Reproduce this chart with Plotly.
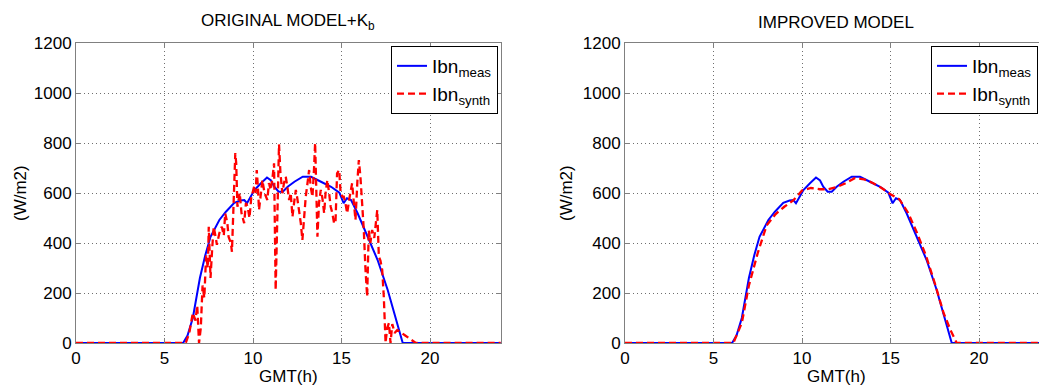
import plotly.graph_objects as go

# ---------------- data ----------------
hours_meas = [0, 6.05, 6.3, 6.6, 7.0, 7.3, 7.6, 8.1, 8.47, 8.94, 9.3, 9.51, 9.66, 10.08, 10.45,
              10.79, 11.02, 11.2, 11.45, 11.68, 11.96, 12.34, 12.81, 13.28, 13.84, 14.41, 14.88,
              15.12, 15.31, 15.54, 15.91, 16.48, 17.04, 17.61, 18.08, 18.46, 24]
ibn_meas = [0, 0, 30, 100, 260, 350, 425, 492, 525, 561, 570, 572, 559, 612, 639,
            662, 650, 625, 605, 605, 625, 645, 665, 665, 645, 625, 601,
            559, 579, 572, 519, 425, 332, 212, 92, 0, 0]

hours_synth_orig = [0, 6.2, 6.4, 6.6, 6.75, 6.85, 6.95, 7.05, 7.15, 7.25, 7.35, 7.45, 7.5, 7.6, 7.7,
                    7.78, 7.9, 7.96, 8.1, 8.24, 8.35, 8.43, 8.55, 8.62, 8.75, 8.81, 8.9, 9.0, 9.05,
                    9.12, 9.25, 9.35, 9.5, 9.6, 9.7, 9.8, 9.9, 10.06, 10.15, 10.21, 10.28, 10.34,
                    10.45, 10.53, 10.65, 10.81, 10.9, 11.0, 11.1, 11.19, 11.28, 11.38, 11.47, 11.55,
                    11.66, 11.75, 11.85, 11.95, 12.04, 12.13, 12.23, 12.32, 12.42, 12.5, 12.6, 12.7,
                    12.79, 12.88, 12.98, 13.08, 13.17, 13.27, 13.36, 13.45, 13.51, 13.58, 13.64,
                    13.73, 13.83, 13.92, 14.02, 14.1, 14.2, 14.3, 14.39, 14.48, 14.58, 14.66, 14.75,
                    14.87, 14.95, 15.06, 15.13, 15.22, 15.32, 15.45, 15.6, 15.7, 15.79, 15.9, 15.98,
                    16.07, 16.15, 16.26, 16.35, 16.45, 16.54, 16.63, 16.73, 16.85, 17.02, 17.11, 17.2,
                    17.3, 17.39, 17.49, 17.58, 17.68, 17.77, 17.87, 18.0, 18.15, 18.6, 19.2, 24]
ibn_synth_orig = [0, 0, 40, 120, 90, 150, 0, 60, 230, 180, 350, 300, 465, 260, 385,
                  465, 420, 393, 440, 465, 430, 519, 480, 425, 400, 365, 550, 760, 720,
                  545, 600, 520, 479, 560, 545, 500, 580, 625, 600, 692, 620, 532,
                  600, 652, 600, 572, 640, 612, 660, 719, 212, 600, 795, 680,
                  599, 640, 665, 620, 572, 600, 505, 560, 612, 580, 532, 480,
                  412, 500, 585, 640, 692, 620, 585, 700, 800, 600, 425,
                  560, 612, 580, 519, 600, 652, 600, 545, 520, 479, 479, 679,
                  692, 600, 585, 585, 560, 519, 580, 639, 560, 492, 650, 732,
                  665, 580, 452, 300, 185, 452, 400, 452, 420, 532, 345, 330,
                  292, 185, 0, 60, 80, 0, 76, 40, 52, 30, 0, 0]

hours_synth_impr = [0, 6.12, 6.6, 7.0, 7.5, 8.0, 8.5, 9.0, 9.5, 10.0, 10.5, 11.0, 11.5, 12.0, 12.5,
                    13.0, 13.5, 14.0, 14.5, 15.0, 15.5, 16.0, 16.5, 17.0, 17.5, 18.0, 18.4, 18.74, 24]
ibn_synth_impr = [0, 0, 80, 230, 360, 470, 515, 545, 570, 610, 620, 615, 615, 625, 640,
                  660, 655, 640, 620, 595, 575, 520, 440, 350, 240, 120, 50, 0, 0]

x_ticks = [0, 5, 10, 15, 20]
y_ticks = [0, 200, 400, 600, 800, 1000, 1200]

# ---------------- layout helpers ----------------
W, H = 1039, 389


def px(x):
    return x / W


def py(y):
    return 1 - y / H


FONT = "Liberation Sans, Arial, sans-serif"
RED = "#ff0000"
BLUE = "#0000ff"

fig = go.Figure()

fig.add_trace(go.Scatter(x=hours_meas, y=ibn_meas, mode="lines", name="Ibn<sub>meas</sub>",
                         line=dict(color=BLUE, width=2), xaxis="x", yaxis="y", legend="legend"))
fig.add_trace(go.Scatter(x=hours_synth_orig, y=ibn_synth_orig, mode="lines", name="Ibn<sub>synth</sub>",
                         line=dict(color=RED, width=2.3, dash="7px,4px"), xaxis="x", yaxis="y",
                         legend="legend"))
fig.add_trace(go.Scatter(x=hours_meas, y=ibn_meas, mode="lines", name="Ibn<sub>meas</sub>",
                         line=dict(color=BLUE, width=2), xaxis="x2", yaxis="y2", legend="legend2"))
fig.add_trace(go.Scatter(x=hours_synth_impr, y=ibn_synth_impr, mode="lines", name="Ibn<sub>synth</sub>",
                         line=dict(color=RED, width=2.3, dash="7px,4px"), xaxis="x2", yaxis="y2",
                         legend="legend2"))

axis_common = dict(showline=True, linecolor="#808080", linewidth=1, ticks="inside", ticklen=5,
                   tickcolor="#808080", showgrid=True, gridcolor="#6f6f6f", griddash="1px,3px",
                   gridwidth=1, zeroline=False, automargin=False,
                   tickfont=dict(family=FONT, size=17, color="black"))

ydom = [py(343), py(43)]

legend_common = dict(xanchor="right", y=py(46), yanchor="top", bgcolor="white",
                     bordercolor="black", borderwidth=1,
                     font=dict(family=FONT, size=19, color="black"), itemwidth=30)

fig.update_layout(
    width=W, height=H,
    margin=dict(l=0, r=0, t=0, b=0, pad=0),
    paper_bgcolor="white", plot_bgcolor="white",
    xaxis=dict(domain=[px(76), px(500.8)], range=[0, 24], tickvals=x_ticks, mirror="ticks",
               anchor="y", **axis_common),
    yaxis=dict(domain=ydom, range=[0, 1200], tickvals=y_ticks, mirror="ticks", anchor="x",
               **axis_common),
    xaxis2=dict(domain=[px(625), 1.0], range=[0, 23.39], tickvals=x_ticks, mirror="ticks",
                anchor="y2", **axis_common),
    yaxis2=dict(domain=ydom, range=[0, 1200], tickvals=y_ticks, mirror=False, anchor="x2",
                **axis_common),
    legend=dict(x=px(498), **legend_common),
    legend2=dict(x=px(1038), **legend_common),
    showlegend=True,
)

ann_font = dict(family=FONT, size=17, color="black")
annotations = [
    dict(text="ORIGINAL MODEL+K<sub>b</sub>", x=px(288), y=py(22), font=dict(family=FONT, size=17, color="black")),
    dict(text="IMPROVED MODEL", x=px(836), y=py(22), font=dict(family=FONT, size=17, color="black")),
    dict(text="GMT(h)", x=px(288), y=py(376), font=ann_font),
    dict(text="GMT(h)", x=px(836), y=py(376), font=ann_font),
    dict(text="(W/m2)", x=px(20), y=py(193), textangle=-90, font=ann_font),
    dict(text="(W/m2)", x=px(566), y=py(193), textangle=-90, font=ann_font),
]
for a in annotations:
    fig.add_annotation(xref="paper", yref="paper", showarrow=False, xanchor="center",
                       yanchor="middle", **a)

fig.write_html("out.html")
